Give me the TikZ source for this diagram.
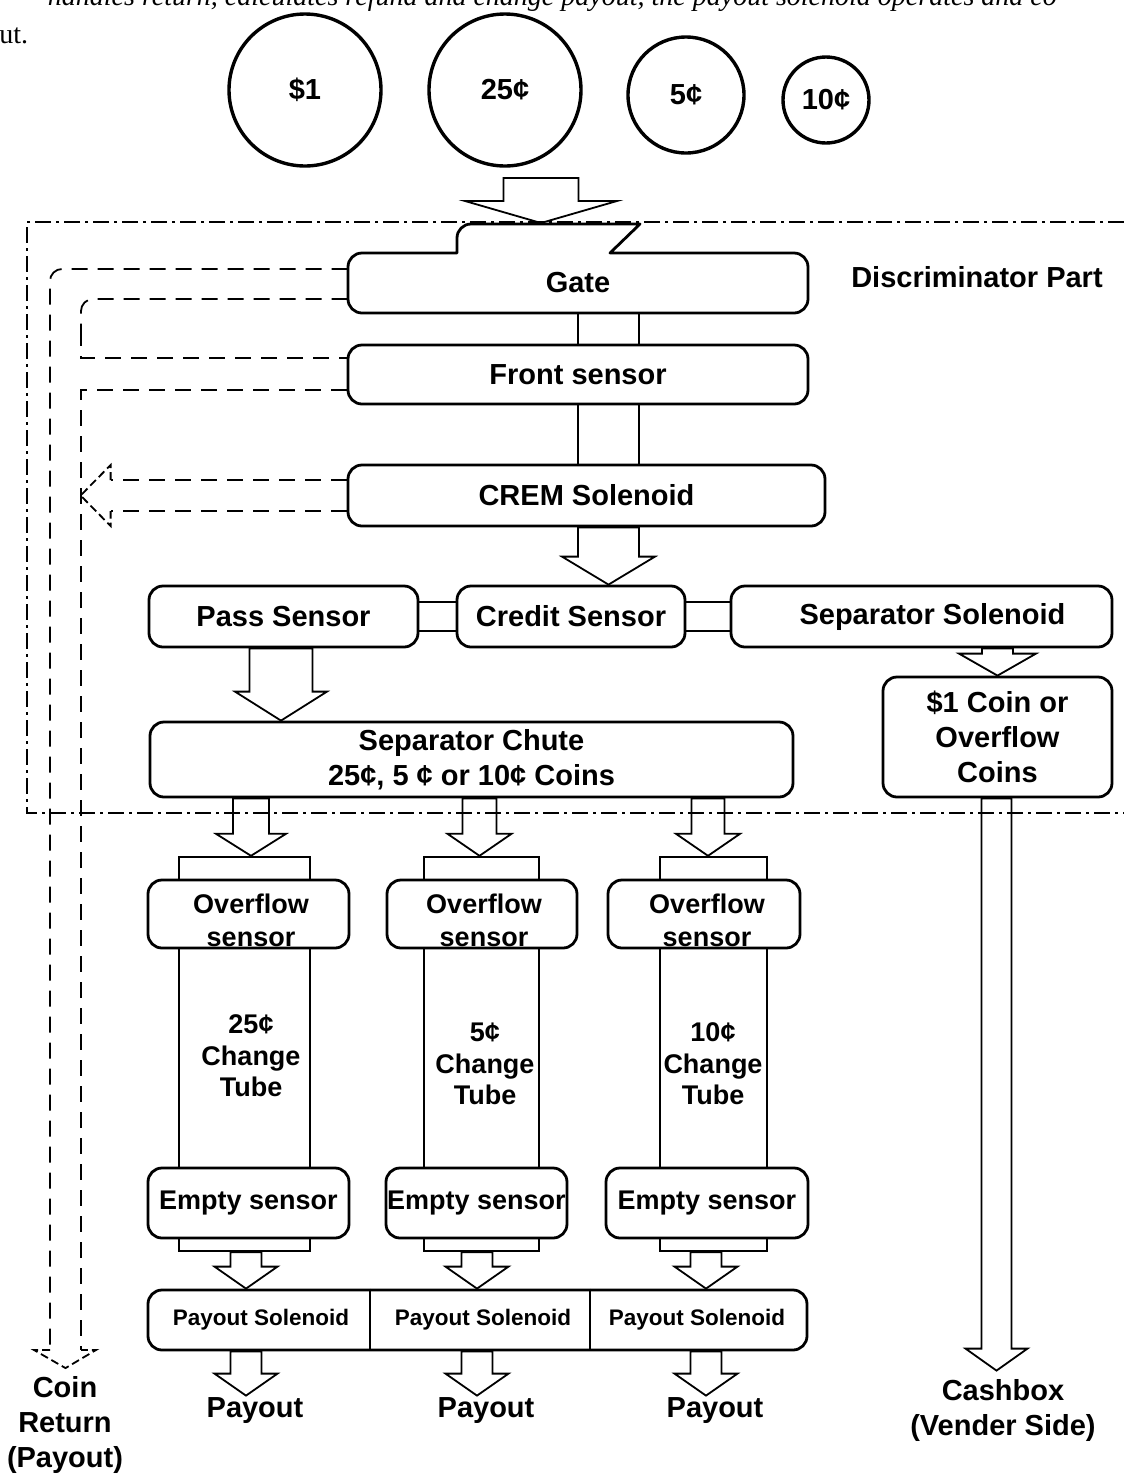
\documentclass[tikz,border=0pt]{standalone}
\usepackage{fontspec}
\setmainfont{Liberation Sans}
\newfontfamily\refserif{Liberation Serif}
\usetikzlibrary{calc}
\newcommand\fA{\fontsize{14.5}{17.5}\selectfont\bfseries}
\newcommand\fB{\fontsize{13.5}{16.5}\selectfont\bfseries}
\newcommand\fT{\fontsize{13.5}{15.75}\selectfont\bfseries}
\newcommand\fC{\fontsize{11.25}{13}\selectfont\bfseries}
% hollow (block) arrow: #2 start (its y is used), #3 tip, #4 shaft half width, #5 head half width, #6 head length (px)
\newcommand\fatarrow[6][]{%
  \draw[fatline,#1] let \p1=(#2), \p2=(#3) in
    ({\x2-(#4)*0.5pt},\y1) -- ({\x2-(#4)*0.5pt},{\y2+(#6)*0.5pt})
    -- ({\x2-(#5)*0.5pt},{\y2+(#6)*0.5pt}) -- (\x2,\y2)
    -- ({\x2+(#5)*0.5pt},{\y2+(#6)*0.5pt}) -- ({\x2+(#4)*0.5pt},{\y2+(#6)*0.5pt})
    -- ({\x2+(#4)*0.5pt},\y1) -- cycle;}
\tikzset{
  boxline/.style={line width=1.4pt, line join=round},
  bx/.style={draw, line width=1.4pt, rounded corners=7pt, fill=white, inner sep=0pt, align=center, font=\fA},
  fatline/.style={line width=0.9pt, line join=miter},
  tubeline/.style={draw, line width=1.2pt, inner sep=0pt},
  dashln/.style={line width=0.9pt, dash pattern=on 8pt off 5pt},
  dashhead/.style={line width=0.9pt, dash pattern=on 4pt off 2pt},
  dashdot/.style={line width=0.75pt, dash pattern=on 8pt off 2.5pt on 1.5pt off 2.5pt},
  coin/.style={circle, draw, line width=1.7pt, inner sep=0pt, font=\fA},
  lbl/.style={inner sep=0pt, align=center, font=\fA},
}
\begin{document}
\begin{tikzpicture}[x=0.5pt,y=-0.5pt]
\useasboundingbox (0,0) rectangle (1124,1474);
\clip (0,0) rectangle (1124,1474);
\fill[white] (0,0) rectangle (1124,1474);

% fragments of the surrounding page text
\node[anchor=base west, inner sep=0pt, font={\refserif\itshape\fontsize{14}{16}\selectfont}] (prevline) at (561,5)
  {\llap{handles return, calculates refund and change }payout, the payout solenoid operates and co};
\node[anchor=base west, inner sep=0pt, font={\refserif\fontsize{14}{16}\selectfont}] (prevend) at (-1,43) {ut.};

% coins
\node[coin, minimum size=76pt] (c1) at (305,90) {\$1};
\node[coin, minimum size=76pt] (c2) at (505,90) {25¢};
\node[coin, minimum size=58pt] (c3) at (686,95) {5¢};
\node[coin, minimum size=43pt] (c4) at (826,100) {10¢};

% discriminator boundary
\draw[dashdot] (1124,222) -- (27,222) -- (27,813) -- (1124,813);
\node[lbl] (disc) at (977,277) {Discriminator Part};

% gate
\node[lbl, minimum width=230pt, minimum height=30pt] (gate) at (578,283) {Gate};
\draw[boxline] (457,253) -- (457,238) to[out=90,in=180] (471,224) -- (640,224) -- (610,253)
  -- (794,253) to[out=0,in=90] (808,267) -- (808,299) to[out=-90,in=0] (794,313)
  -- (362,313) to[out=180,in=-90] (348,299) -- (348,267) to[out=90,in=180] (362,253) -- cycle;
\coordinate (coinsin) at (541,178);
\coordinate (gatetop) at (541,223);
\fatarrow{coinsin}{gatetop}{37.5}{76}{22}

% front sensor, CREM
\node[bx, minimum width=230pt, minimum height=29.5pt] (front) at (578,374.5) {Front sensor};
\node[bx, minimum width=238.5pt, minimum height=30.5pt] (crem) at (586.5,495.5) {CREM Solenoid};
\coordinate (ch1) at (578,0);
\coordinate (ch2) at (639,0);
\coordinate (chm) at (608.5,0);
\draw[fatline] (gate.south -| ch1) -- (front.north -| ch1);
\draw[fatline] (gate.south -| ch2) -- (front.north -| ch2);
\draw[fatline] (front.south -| ch1) -- (crem.north -| ch1);
\draw[fatline] (front.south -| ch2) -- (crem.north -| ch2);

% sensor row
\node[bx, minimum width=134.5pt, minimum height=30.5pt] (pass) at (283.5,616.5) {Pass Sensor};
\node[bx, minimum width=114pt, minimum height=30.5pt] (credit) at (571,616.5) {Credit Sensor};
\node[bx, minimum width=190.5pt, minimum height=30.5pt] (sepsol) at (921.5,616.5) {\hspace*{11pt}Separator Solenoid};
\draw[fatline] ($(pass.east)+(0,-14.5)$) -- ($(credit.west)+(0,-14.5)$);
\draw[fatline] ($(pass.east)+(0,14.5)$) -- ($(credit.west)+(0,14.5)$);
\draw[fatline] ($(credit.east)+(0,-14.5)$) -- ($(sepsol.west)+(0,-14.5)$);
\draw[fatline] ($(credit.east)+(0,14.5)$) -- ($(sepsol.west)+(0,14.5)$);
\fatarrow{crem.south -| chm}{credit.north -| chm}{30.5}{46.5}{28}

% $1 coin path
\node[bx, minimum width=114.5pt, minimum height=60pt] (dollar) at (997.5,737) {\$1 Coin or\\Overflow\\Coins};
\fatarrow{sepsol.south}{dollar.north}{15.5}{38.5}{22}
\node[lbl] (cash) at (1003,1410) {Cashbox\\(Vender Side)};
\fatarrow{dollar.south}{$(cash.north -| dollar.south)+(-1,-8)$}{15}{31}{22}

% separator chute
\node[bx, minimum width=321.5pt, minimum height=37.5pt] (chute) at (471.5,759.5) {Separator Chute\\25¢, 5 ¢ or 10¢ Coins};
\fatarrow{pass.south}{chute.north -| 281,0}{31.5}{46}{29}

% change tubes
\node[tubeline, minimum width=65.5pt, minimum height=197pt] (tube1) at (244.5,1054) {};
\node[tubeline, minimum width=57.5pt, minimum height=197pt] (tube2) at (481.5,1054) {};
\node[tubeline, minimum width=53.5pt, minimum height=197pt] (tube3) at (713.5,1054) {};
\node[lbl, font=\fT] (tube1t) at (251,1056) {25¢\\Change\\Tube};
\node[lbl, font=\fT] (tube2t) at (485,1064) {5¢\\Change\\Tube};
\node[lbl, font=\fT] (tube3t) at (713,1064) {10¢\\Change\\Tube};
\coordinate (b1) at (251,0);
\coordinate (b2) at (479.5,0);
\coordinate (b3) at (708,0);
\fatarrow{chute.south}{tube1.north -| b1}{18}{35}{22}
\fatarrow{chute.south}{tube2.north -| b2}{17}{32}{22}
\fatarrow{chute.south}{tube3.north -| b3}{16.5}{32}{22}

% overflow sensors
\node[bx, minimum width=100.5pt, minimum height=34pt] (ov1) at (248.5,914) {};
\node[bx, minimum width=95pt, minimum height=34pt] (ov2) at (482,914) {};
\node[bx, minimum width=96pt, minimum height=34pt] (ov3) at (704,914) {};
\node[lbl, font=\fB] (ov1t) at (251,920) {Overflow\\sensor};
\node[lbl, font=\fB] (ov2t) at (484,920) {Overflow\\sensor};
\node[lbl, font=\fB] (ov3t) at (707,920) {Overflow\\sensor};

% empty sensors
\node[bx, font=\fB, minimum width=100.5pt, minimum height=35pt] (em1) at (248.5,1203) {Empty sensor};
\node[bx, font=\fB, minimum width=90.5pt, minimum height=35pt] (em2) at (476.5,1203) {Empty sensor};
\node[bx, font=\fB, minimum width=101pt, minimum height=35pt] (em3) at (707,1203) {Empty sensor};

% payout solenoids
\node[bx, minimum width=329.5pt, minimum height=30pt] (payout) at (477.5,1320) {};
\coordinate (d1) at (370,0);
\coordinate (d2) at (590,0);
\draw[line width=1.2pt] (payout.north -| d1) -- (payout.south -| d1);
\draw[line width=1.2pt] (payout.north -| d2) -- (payout.south -| d2);
\node[lbl, font=\fC] (ps1) at (261,1320) {Payout Solenoid};
\node[lbl, font=\fC] (ps2) at (483,1320) {Payout Solenoid};
\node[lbl, font=\fC] (ps3) at (697,1320) {Payout Solenoid};
\coordinate (a1) at (246,0);
\coordinate (a2) at (477,0);
\coordinate (a3) at (706,0);
\fatarrow{tube1.south}{payout.north -| a1}{15.5}{31.5}{22}
\fatarrow{tube2.south}{payout.north -| a2}{15.5}{31.5}{22}
\fatarrow{tube3.south}{payout.north -| a3}{15.5}{31.5}{22}
\node[lbl] (po1) at (255,1411) {Payout};
\node[lbl] (po2) at (486,1411) {Payout};
\node[lbl] (po3) at (715,1411) {Payout};
\fatarrow{payout.south}{$(po1.north -| a1)+(0,-2)$}{15.5}{31.5}{22}
\fatarrow{payout.south}{$(po2.north -| a2)+(0,-2)$}{15.5}{31.5}{22}
\fatarrow{payout.south}{$(po3.north -| a3)+(0,-2)$}{15.5}{31.5}{22}

% coin return (dashed) paths
\node[lbl] (coinret) at (65,1425) {Coin\\Return\\(Payout)};
\coordinate (retL) at (50,1350);
\coordinate (retR) at (81,1350);
\coordinate (loopx) at (81,330);
\draw[dashln, rounded corners=6pt] ($(gate.west)+(0,-14)$) -| (retL);
\draw[dashln, rounded corners=6pt] ($(gate.west)+(0,16)$) -| (loopx);
\draw[dashln] (loopx) |- ($(front.west)+(0,-16.5)$);
\draw[dashln] ($(front.west)+(0,15.5)$) -| (retR);
\draw[dashhead] (retL) -- ++(-16,0) -- ($(coinret.north)+(0.5,-8)$) -- ($(retR)+(15,0)$) -- (retR);
\draw[dashln] ($(crem.west)+(0,-15.5)$) -- ($(crem.west)+(-236,-15.5)$);
\draw[dashln] ($(crem.west)+(0,15.5)$) -- ($(crem.west)+(-236,15.5)$);
\draw[dashhead] ($(crem.west)+(-236,-15.5)$) -- ++(0,-15) -- ($(crem.west)+(-266,0)$)
  -- ($(crem.west)+(-236,30.5)$) -- ++(0,-15);
\end{tikzpicture}
\end{document}
